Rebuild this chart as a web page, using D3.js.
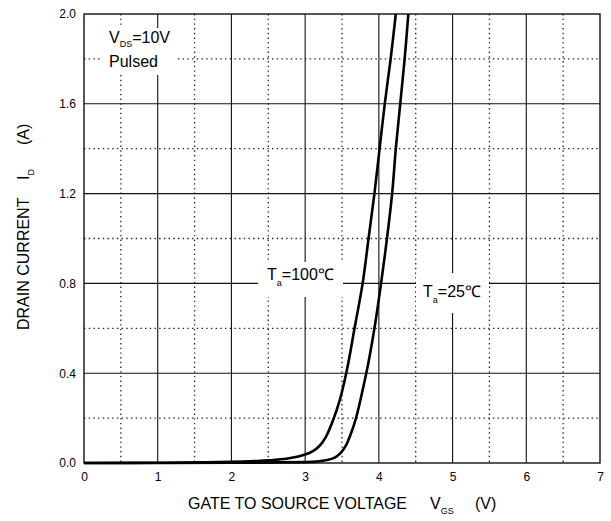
<!DOCTYPE html>
<html>
<head>
<meta charset="utf-8">
<script src="https://cdn.jsdelivr.net/npm/d3@7"></script>
<style>
  body { margin: 0; background: #fff; }
  text { font-family: "Liberation Sans", Arial, sans-serif; fill: #000; }
</style>
</head>
<body>
<script>
// axis ticks
var xTicks = [0, 1, 2, 3, 4, 5, 6, 7];
var yTicks = [0, 0.4, 0.8, 1.2, 1.6, 2.0];
var xMinor = [0.5, 1.5, 2.5, 3.5, 4.5, 5.5, 6.5];
var yMinor = [0.2, 0.6, 1.0, 1.4, 1.8];

// Ta = 100C curve (VGS, ID)
var ta100V = [0, 1.0, 2.0, 2.4, 2.6, 2.8, 3.0, 3.1, 3.2, 3.28, 3.37, 3.47, 3.57, 3.67, 3.78, 3.86, 3.94, 4.01, 4.08, 4.16, 4.23];
var ta100I = [0, 0.001, 0.005, 0.01, 0.014, 0.022, 0.038, 0.052, 0.078, 0.115, 0.183, 0.28, 0.42, 0.6, 0.8, 1.0, 1.2, 1.4, 1.6, 1.8, 2.0];

// Ta = 25C curve
var ta25V = [0, 2.0, 3.0, 3.15, 3.3, 3.4, 3.48, 3.55, 3.62, 3.69, 3.77, 3.86, 3.95, 4.03, 4.11, 4.18, 4.23, 4.29, 4.35, 4.40];
var ta25I = [0, 0.001, 0.004, 0.006, 0.013, 0.024, 0.044, 0.076, 0.13, 0.2, 0.31, 0.45, 0.62, 0.8, 1.0, 1.2, 1.4, 1.6, 1.8, 2.0];

var W = 611, H = 521;
var m = {left: 84, right: 600, top: 14, bottom: 463};

var svg = d3.select("body").append("svg")
    .attr("width", W).attr("height", H);

var x = d3.scaleLinear().domain([0, 7]).range([m.left, m.right]);
var y = d3.scaleLinear().domain([0, 2]).range([m.bottom, m.top]);

// dotted minor grid
svg.append("g").selectAll("line").data(xMinor).enter().append("line")
    .attr("x1", d => x(d)).attr("x2", d => x(d))
    .attr("y1", m.top).attr("y2", m.bottom)
    .attr("stroke", "#222").attr("stroke-width", 1.3)
    .attr("stroke-dasharray", "1.4,3.3");
svg.append("g").selectAll("line").data(yMinor).enter().append("line")
    .attr("x1", m.left).attr("x2", m.right)
    .attr("y1", d => y(d)).attr("y2", d => y(d))
    .attr("stroke", "#222").attr("stroke-width", 1.3)
    .attr("stroke-dasharray", "1.4,3.3");

// solid major grid
svg.append("g").selectAll("line").data(xTicks.slice(1, -1)).enter().append("line")
    .attr("x1", d => x(d)).attr("x2", d => x(d))
    .attr("y1", m.top).attr("y2", m.bottom)
    .attr("stroke", "#111").attr("stroke-width", 1.1);
svg.append("g").selectAll("line").data(yTicks.slice(1, -1)).enter().append("line")
    .attr("x1", m.left).attr("x2", m.right)
    .attr("y1", d => y(d)).attr("y2", d => y(d))
    .attr("stroke", "#111").attr("stroke-width", 1.1);

// frame
svg.append("rect")
    .attr("x", m.left).attr("y", m.top)
    .attr("width", m.right - m.left).attr("height", m.bottom - m.top)
    .attr("fill", "none").attr("stroke", "#111").attr("stroke-width", 1.4);

// axes (labels only)
svg.append("g")
    .attr("transform", "translate(0," + m.bottom + ")")
    .call(d3.axisBottom(x).tickValues(xTicks).tickSize(0).tickPadding(9.5).tickFormat(d3.format("d")));
svg.append("g")
    .attr("transform", "translate(" + m.left + ",0)")
    .call(d3.axisLeft(y).tickValues(yTicks).tickSize(0).tickPadding(8).tickFormat(d3.format(".1f")));
svg.selectAll(".domain").remove();
svg.selectAll(".tick text").attr("font-size", 12).attr("font-family", "Liberation Sans, Arial, sans-serif");

// white label boxes
function box(x0, y0, x1, y1) {
    svg.append("rect").attr("x", x0).attr("y", y0)
        .attr("width", x1 - x0).attr("height", y1 - y0).attr("fill", "#fff");
}
box(100, 28, 175, 75);
box(258, 262, 343, 297);
box(416, 273, 489, 313);

// in-plot text
var t1 = svg.append("text").attr("x", 109).attr("y", 43).attr("font-size", 16);
t1.append("tspan").text("V");
t1.append("tspan").attr("font-size", 9).attr("dy", 4).text("DS");
t1.append("tspan").attr("dy", -4).text("=10V");
svg.append("text").attr("x", 109).attr("y", 67).attr("font-size", 16).text("Pulsed");

var t2 = svg.append("text").attr("x", 267).attr("y", 280).attr("font-size", 16);
t2.append("tspan").text("T");
t2.append("tspan").attr("font-size", 9).attr("dy", 6).text("a");
t2.append("tspan").attr("dy", -6).text("=100\u2103");

var t3 = svg.append("text").attr("x", 423).attr("y", 297).attr("font-size", 16);
t3.append("tspan").text("T");
t3.append("tspan").attr("font-size", 9).attr("dy", 6).text("a");
t3.append("tspan").attr("dy", -6).text("=25\u2103");

// curves
var line = d3.line()
    .x(d => x(d[0])).y(d => y(d[1]))
    .curve(d3.curveCatmullRom.alpha(0.5));

[[ta100V, ta100I], [ta25V, ta25I]].forEach(function(s) {
    svg.append("path")
        .datum(d3.zip(s[0], s[1]))
        .attr("d", line)
        .attr("fill", "none")
        .attr("stroke", "#000")
        .attr("stroke-width", 2.6);
});

// axis titles
var xt = svg.append("text").attr("x", 188).attr("y", 509).attr("font-size", 16);
xt.append("tspan").text("GATE TO SOURCE VOLTAGE");
xt.append("tspan").attr("x", 430).text("V");
xt.append("tspan").attr("font-size", 9).attr("dy", 5).text("GS");
xt.append("tspan").attr("x", 475).attr("dy", -5).text("(V)");

var yt = svg.append("text")
    .attr("transform", "translate(29,330) rotate(-90)")
    .attr("font-size", 16);
yt.append("tspan").attr("x", 0).text("DRAIN CURRENT");
yt.append("tspan").attr("x", 150).text("I");
yt.append("tspan").attr("font-size", 9).attr("dy", 5).text("D");
yt.append("tspan").attr("x", 185).attr("dy", -5).text("(A)");
</script>
</body>
</html>
